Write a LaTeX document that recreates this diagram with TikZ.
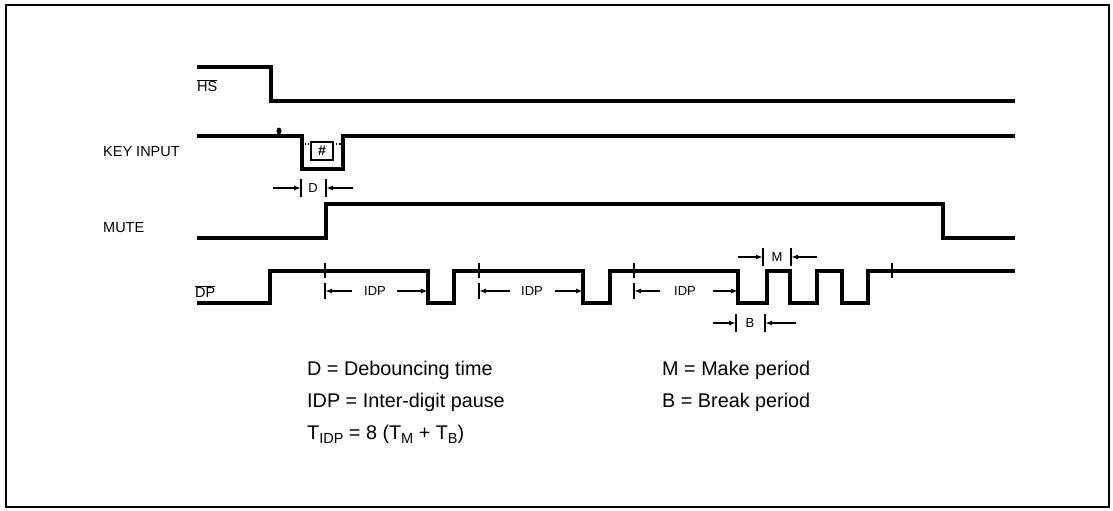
\documentclass[tikz,border=0pt]{standalone}
\usepackage{fontspec}
\setmainfont{Liberation Sans}
\usetikzlibrary{arrows.meta}
\begin{document}
\begin{tikzpicture}[x=1pt,y=-1pt,
 sig/.style={line width=3.2pt, line join=miter},
 dimln/.style={line width=1.6pt},
 darr/.style={dimln,-{Latex[length=7pt,width=5pt]}},
 tickln/.style={line width=1.6pt},
 lbl/.style={font=\fontsize{14.5}{14.5}\selectfont, anchor=west, inner sep=0pt},
 dlbl/.style={font=\fontsize{13}{13}\selectfont, inner sep=0pt},
 leg/.style={font=\fontsize{19.8}{19.8}\selectfont, anchor=west, inner sep=0pt}]
\useasboundingbox (0,0) rectangle (1113,511);
\draw[line width=2.8pt] (6,5) rectangle (1109,507);

% signal labels
\node[lbl] (lhs) at (197,86) {$\overline{\mbox{HS}}$};
\node[lbl] (lkey) at (103,152) {KEY INPUT};
\node[lbl] (lmute) at (103,228) {MUTE};
\node[lbl] (ldp) at (195,292) {$\overline{\mbox{DP}}$};

% HS
\draw[sig] (197,67) -- (271,67) -- (271,101) -- (1015,101);
% KEY INPUT
\draw[sig] (197,136) -- (302,136) -- (302,169) -- (343,169) -- (343,136) -- (1015,136);
\fill (279,131) ellipse (2.5 and 3.5);
\draw[line width=2.2pt] (311,142) rectangle (333,160);
\node[font=\fontsize{14}{14}\selectfont\bfseries, inner sep=0pt] (hash) at (322,151) {\#};
\draw[dotted, line width=1.2pt] (305,144) -- (311,144) (333,144) -- (341,144);
% MUTE
\draw[sig] (197,238) -- (326,238) -- (326,204) -- (943,204) -- (943,238) -- (1015,238);
% DP
\draw[sig] (197,303) -- (270,303) -- (270,271) -- (428,271) -- (428,303) -- (454,303)
  -- (454,271) -- (583,271) -- (583,303) -- (610,303) -- (610,271) -- (738,271)
  -- (738,303) -- (767,303) -- (767,271) -- (790,271) -- (790,303) -- (817,303)
  -- (817,271) -- (842,271) -- (842,303) -- (868,303) -- (868,271) -- (1015,271);

% D dimension
\draw[darr] (273,188) -- (301,188);
\draw[tickln] (301,179) -- (301,197) (326,179) -- (326,197);
\node[dlbl] (dd) at (313,188) {D};
\draw[darr] (353,188) -- (326,188);

% IDP ticks and dimensions
\foreach \x in {325,479,634} {
  \draw[tickln] (\x,263) -- (\x,278);
  \draw[tickln] (\x,283) -- (\x,299);
}
\draw[tickln] (892,263) -- (892,278);
\draw[darr] (352,291) -- (325,291);
\node[dlbl] (idp1) at (375,291) {IDP};
\draw[darr] (397,291) -- (428,291);
\draw[darr] (510,291) -- (479,291);
\node[dlbl] (idp2) at (532,291) {IDP};
\draw[darr] (555,291) -- (583,291);
\draw[darr] (660,291) -- (634,291);
\node[dlbl] (idp3) at (685,291) {IDP};
\draw[darr] (713,291) -- (738,291);

% M dimension
\draw[darr] (738,257) -- (763,257);
\draw[tickln] (763,248) -- (763,266) (791,248) -- (791,266);
\node[dlbl] (mm) at (777,257) {M};
\draw[darr] (817,257) -- (791,257);

% B dimension
\draw[darr] (713,323) -- (736,323);
\draw[tickln] (736,314) -- (736,332) (765,314) -- (765,332);
\node[dlbl] (bb) at (750,323) {B};
\draw[darr] (796,323) -- (765,323);

% legend
\node[leg] (leg1) at (307,370) {D = Debouncing time};
\node[leg] (leg2) at (307,402) {IDP = Inter-digit pause};
\node[leg] (leg3) at (307,434) {T\raisebox{-4pt}{\fontsize{14.5}{14.5}\selectfont IDP} = 8 (T\raisebox{-4pt}{\fontsize{14.5}{14.5}\selectfont M} + T\raisebox{-4pt}{\fontsize{14.5}{14.5}\selectfont B})};
\node[leg] (leg4) at (662,370) {M = Make period};
\node[leg] (leg5) at (662,402) {B = Break period};
\end{tikzpicture}
\end{document}
